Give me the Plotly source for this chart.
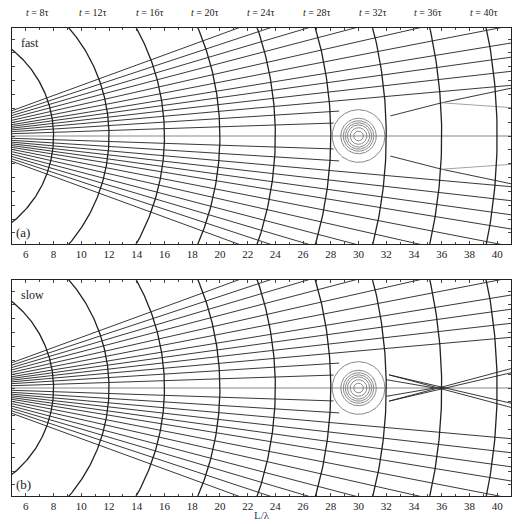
import numpy as np
import plotly.graph_objects as go

wave_times = [8, 12, 16, 20, 24, 28, 32, 36, 40]
time_labels = ["t = 8τ", "t = 12τ", "t = 16τ", "t = 20τ", "t = 24τ", "t = 28τ", "t = 32τ", "t = 36τ", "t = 40τ"]
label_x = [6.8, 10.8, 14.9, 18.9, 22.9, 27.0, 31.0, 35.0, 39.0]
ray_angles = [5.1, 6.5, 7.9, 9.3, 11.0, 12.8, 14.7, 16.5, 18.3, 20.1]
lens_center = 30
lens_radii = [0.35, 0.6, 0.8, 0.95, 1.1, 1.28, 1.9]
inner_angles = [1.9, 3.6]
inner_stops = [28.2, 28.6]
exit_fast = [(32.3, 1.45, 36, 2.4), (36, 2.4, 41, 3.45), (36, 2.4, 41, 2.05)]
exit_slow = [(32.2, 0.95, 41, -1.1), (32.2, 0.95, 41, -1.4), (32.0, 0.6, 35.5, 0.0)]
panel_names = ["fast", "slow"]
panel_tags = ["(a)", "(b)"]
xticks = list(range(6, 41, 2))

W, H = 512, 516
fig = go.Figure()
BLACK = "#222"
doms = [[1 - 236 / H, 1 - 20 / H], [1 - 488 / H, 1 - 272 / H]]
for p in range(2):
    xa = "x" if p == 0 else "x2"
    ya = "y" if p == 0 else "y2"
    def line(xs, ys, c=BLACK, w=0.9):
        fig.add_trace(go.Scatter(x=xs, y=ys, mode="lines", xaxis=xa, yaxis=ya,
                                 line=dict(color=c, width=w), hoverinfo="skip", showlegend=False))
    line([0, 42], [0, 0], "#888", 1.2)
    for a in ray_angles:
        for s in (1, -1):
            t = np.tan(np.radians(a)) * s
            line([0, 45], [0, 45 * t])
    for a, st in zip(inner_angles, inner_stops):
        for s in (1, -1):
            t = np.tan(np.radians(a)) * s
            line([0, st], [0, st * t])
    th = np.linspace(0, 2 * np.pi, 200)
    for r in lens_radii:
        line(lens_center + r * np.cos(th), r * np.sin(th), "#888", 1.0)
    ex = exit_fast if p == 0 else exit_slow
    for j, (x0, y0, x1, y1) in enumerate(ex):
        c = "#999" if (p == 0 and j == 2) else BLACK
        for s in (1, -1):
            line([x0, x1], [s * y0, s * y1], c)
    for T in wave_times:
        ang = np.linspace(-np.pi / 2, np.pi / 2, 400)
        line(T * np.cos(ang), T * np.sin(ang), BLACK, 1.3)
    axx = dict(range=[5, 41], tickvals=xticks, ticks="inside", ticklen=3, showgrid=False,
               zeroline=False, showline=True, linecolor=BLACK, mirror="ticks", linewidth=1,
               minor=dict(dtick=1, ticks="inside", ticklen=2),
               tickfont=dict(family="Liberation Serif", size=11, color=BLACK),
               domain=[4 / W, 503 / W])
    axy = dict(range=[-7.8, 7.8], dtick=1, ticks="inside", ticklen=3, showticklabels=False,
               showgrid=False, zeroline=False, showline=True, linecolor=BLACK, mirror="ticks",
               linewidth=1, domain=doms[p])
    if p == 0:
        fig.update_layout(xaxis=axx, yaxis=dict(axy, anchor="x"))
    else:
        fig.update_layout(xaxis2=dict(axx, anchor="y2",
                                      title=dict(text="L/λ", standoff=0,
                                                 font=dict(family="Liberation Serif", size=11))),
                          yaxis2=dict(axy, anchor="x2"))
    fig.add_annotation(xref=xa + " domain", yref=ya + " domain", x=0.015, y=0.97, text=panel_names[p],
                       showarrow=False, xanchor="left", yanchor="top",
                       font=dict(family="Liberation Serif", size=12, color=BLACK))
    fig.add_annotation(xref=xa + " domain", yref=ya + " domain", x=0.005, y=0.01, text=panel_tags[p],
                       showarrow=False, xanchor="left", yanchor="bottom",
                       font=dict(family="Liberation Serif", size=13, color=BLACK))

for lx, lt in zip(label_x, time_labels):
    fig.add_annotation(xref="x", yref="paper", x=lx, y=1 - 4 / H, yanchor="middle",
                       text="<i>" + lt[0] + "</i>" + lt[1:],
                       showarrow=False, font=dict(family="Liberation Serif", size=10, color=BLACK))

fig.update_layout(width=W, height=H, margin=dict(l=0, r=0, t=0, b=0),
                  plot_bgcolor="white", paper_bgcolor="white")
fig.write_html("out.html")
